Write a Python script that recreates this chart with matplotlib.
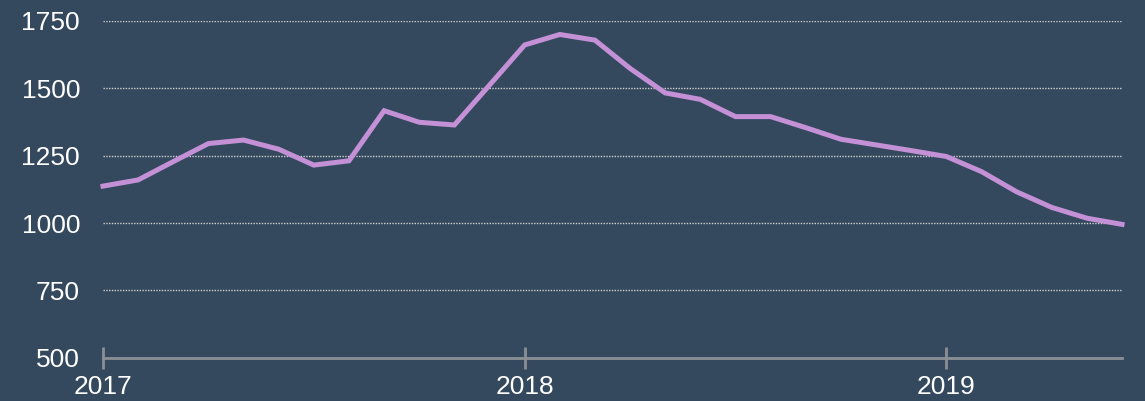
import matplotlib
matplotlib.use("Agg")
import matplotlib.pyplot as plt

months = list(range(30))  # Jan 2017 .. Jun 2019
values = [1137, 1160, 1228, 1295, 1308, 1274, 1215, 1231, 1417, 1374,
          1364, 1512, 1661, 1700, 1679, 1574, 1483, 1459, 1395, 1395,
          1354, 1311, 1290, 1269, 1247, 1191, 1116, 1058, 1018, 995]
x_ticks = [2017, 2018, 2019]
y_ticks = [500, 750, 1000, 1250, 1500, 1750]

x = [2017 + m / 12 for m in months]

bg = "#34495e"
W, H = 1145, 401
fig = plt.figure(figsize=(W / 100, H / 100), dpi=100, facecolor=bg)
ax = fig.add_axes([103 / W, 1 - 357.7 / H, (1122 - 103) / W, (357.7 - 21) / H])
ax.set_facecolor(bg)

ax.plot(x, values, color="#c490d6", lw=3.6, solid_joinstyle="miter", clip_on=False, zorder=3)

ax.set_xlim(x[0], x[-1])
ax.set_ylim(500, 1750)
ax.set_xticks(x_ticks)
ax.set_xticklabels([str(t) for t in x_ticks])
ax.set_yticks(y_ticks)
ax.set_yticklabels([str(t) for t in y_ticks])

for v in y_ticks[1:]:
    ax.axhline(v, color="#d0d0d0", lw=1.0, ls=(0, (1, 1)), zorder=1)

for s in ["top", "right", "left"]:
    ax.spines[s].set_visible(False)
ax.spines["bottom"].set_color("#8a8f94")
ax.spines["bottom"].set_linewidth(2)

fam = ["Liberation Sans", "DejaVu Sans"]
ax.tick_params(axis="x", direction="inout", length=16, width=2, color="#8a8f94",
               labelcolor="white", labelsize=19, pad=4.5)
ax.tick_params(axis="y", length=0, labelcolor="white", labelsize=19, pad=16.5)
for lab in ax.get_xticklabels() + ax.get_yticklabels():
    lab.set_fontfamily(fam)

fig.savefig("out.png", dpi=100, facecolor=bg)
